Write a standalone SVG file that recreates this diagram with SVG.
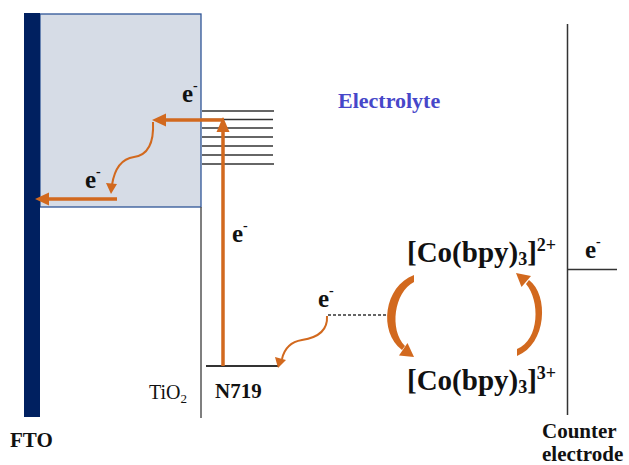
<svg xmlns="http://www.w3.org/2000/svg" width="629" height="465" viewBox="0 0 629 465">
<style>
svg{background:#fff}
.t{font-family:"Liberation Serif","Times New Roman",serif;font-weight:bold;fill:#111}
.r{font-family:"Liberation Serif","Times New Roman",serif;fill:#111}
.o{stroke:#d2691e;fill:none}
.h{fill:#d2691e}
.lv{stroke:#333;stroke-width:1.5}
</style>
<rect width="629" height="465" fill="#fff"/>
<g id="tio2">
<rect x="40" y="14" width="161" height="193" fill="#d6dce6" stroke="#2f5597" stroke-width="1.3"/>
<line x1="201" y1="207" x2="201" y2="418" stroke="#555" stroke-width="1.5"/>
<text class="r" font-family="Liberation Serif, serif" x="149" y="399" font-size="20">TiO<tspan font-size="13" dy="4">2</tspan></text>
</g>
<g id="fto">
<rect x="24" y="13" width="16" height="404" fill="#002060"/>
<text class="t" font-family="Liberation Serif, serif" font-weight="bold" x="10" y="447" font-size="21">FTO</text>
</g>
<g id="cb-levels">
<line class="lv" x1="202" y1="111" x2="274" y2="111"/>
<line class="lv" x1="202" y1="119.5" x2="273" y2="119.5"/>
<line class="lv" x1="202" y1="128" x2="273" y2="128"/>
<line class="lv" x1="202" y1="137" x2="273" y2="137"/>
<line class="lv" x1="202" y1="146" x2="273" y2="146"/>
<line class="lv" x1="202" y1="155" x2="273" y2="155"/>
<line class="lv" x1="202" y1="164" x2="274" y2="164"/>
</g>
<g id="n719">
<line x1="206" y1="366" x2="278" y2="366" stroke="#333" stroke-width="2"/>
<text class="t" font-family="Liberation Serif, serif" font-weight="bold" x="215" y="398" font-size="21">N719</text>
</g>
<g id="electrolyte">
<text class="t" font-family="Liberation Serif, serif" font-weight="bold" x="338" y="108" font-size="22" style="fill:#4747c9">Electrolyte</text>
</g>
<g id="co2">
<text class="t" font-family="Liberation Serif, serif" font-weight="bold" x="407" y="262" font-size="29">[Co(bpy)<tspan font-size="18" dy="3">3</tspan><tspan dy="-3">]</tspan><tspan font-size="18" dy="-11">2+</tspan></text>
</g>
<g id="co3">
<text class="t" font-family="Liberation Serif, serif" font-weight="bold" x="407" y="390" font-size="29">[Co(bpy)<tspan font-size="18" dy="3">3</tspan><tspan dy="-3">]</tspan><tspan font-size="18" dy="-11">3+</tspan></text>
</g>
<g id="counter">
<line x1="567.5" y1="24" x2="567.5" y2="415" stroke="#333" stroke-width="1.5"/>
<line x1="567" y1="269.5" x2="617" y2="269.5" stroke="#333" stroke-width="1.5"/>
<text class="t" font-family="Liberation Serif, serif" font-weight="bold" x="542" y="438" font-size="21">Counter</text>
<text class="t" font-family="Liberation Serif, serif" font-weight="bold" x="542" y="461" font-size="21">electrode</text>
<text class="t" font-family="Liberation Serif, serif" font-weight="bold" x="585" y="258" font-size="25">e<tspan font-size="14" dy="-12">-</tspan></text>
</g>
<g id="labels">
<text class="t" font-family="Liberation Serif, serif" font-weight="bold" x="182" y="102" font-size="25">e<tspan font-size="14" dy="-12">-</tspan></text>
<text class="t" font-family="Liberation Serif, serif" font-weight="bold" x="85" y="188" font-size="25">e<tspan font-size="14" dy="-12">-</tspan></text>
<text class="t" font-family="Liberation Serif, serif" font-weight="bold" x="232" y="242" font-size="25">e<tspan font-size="14" dy="-12">-</tspan></text>
<text class="t" font-family="Liberation Serif, serif" font-weight="bold" x="318" y="307" font-size="25">e<tspan font-size="14" dy="-12">-</tspan></text>
</g>
<g id="connectors">
<line class="o" x1="223" y1="366" x2="223" y2="130" stroke-width="3.5"/>
<polygon class="h" points="223,117 216.5,132 229.5,132"/>
<line class="o" x1="224" y1="120" x2="164" y2="120" stroke-width="3.5"/>
<polygon class="h" points="152,120 166,113.5 166,126.5"/>
<line class="o" x1="117" y1="199" x2="47" y2="199" stroke-width="3.5"/>
<polygon class="h" points="35,199 49,192.5 49,205.5"/>
<path class="o" d="M153,122 C154,142 148,155 134,157 C120,159 114,172 112,185" stroke-width="2"/>
<polygon class="h" points="111,194 106,183 117,184"/>
<path class="o" d="M327,316 C328,332 315,338 302,340 C290,342 284,350 282,359" stroke-width="2"/>
<polygon class="h" points="278,368 275,357 286,360"/>
<line x1="328" y1="315" x2="388" y2="315" stroke="#333" stroke-width="1.5" stroke-dasharray="3,2"/>
<path d="M414,275 C384,286 378,332 402,350 L405,346 C389,330 394,292 414,282 Z" class="h"/>
<polygon class="h" points="414,357 399,355.5 407.5,343"/>
<path d="M517,356 C547,344 549,295 529,280 L526,284 C540,300 540,340 517,349 Z" class="h"/>
<polygon class="h" points="516,273 531,276 521.5,287"/>
</g>
</svg>
